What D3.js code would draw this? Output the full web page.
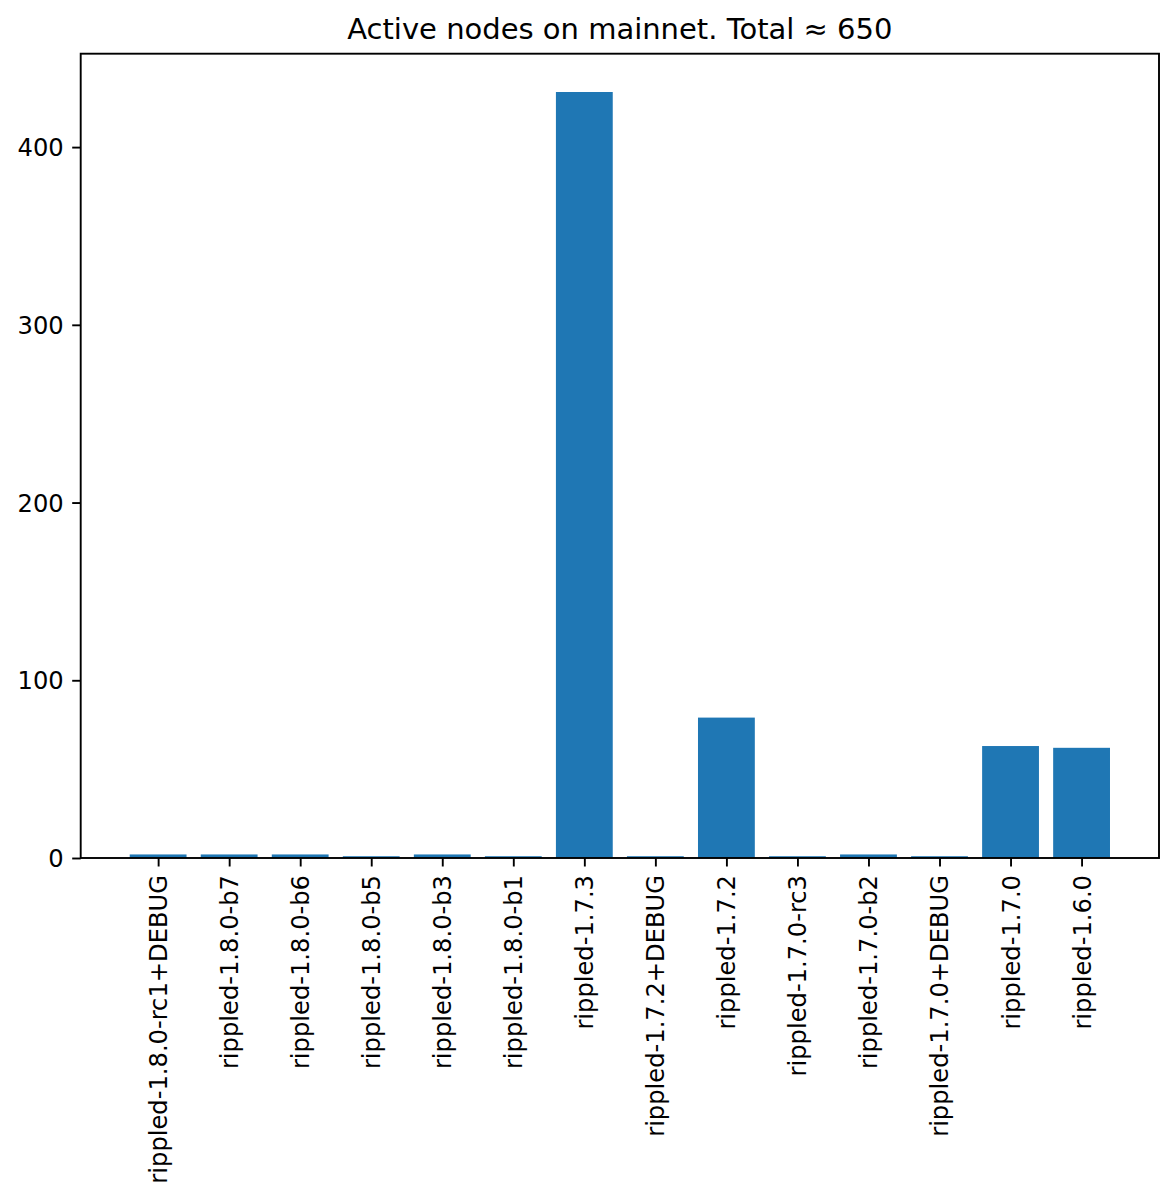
<!DOCTYPE html>
<html>
<head>
<meta charset="utf-8">
<script src="https://cdn.jsdelivr.net/npm/d3@7"></script>
<style>
  html, body { margin: 0; padding: 0; background: #fff; }
  text { font-family: "DejaVu Sans", sans-serif; fill: #000; }
</style>
</head>
<body>
<svg id="chart" width="1176" height="1200"></svg>
<script>
const categories = [
  "rippled-1.8.0-rc1+DEBUG", "rippled-1.8.0-b7", "rippled-1.8.0-b6", "rippled-1.8.0-b5",
  "rippled-1.8.0-b3", "rippled-1.8.0-b1", "rippled-1.7.3", "rippled-1.7.2+DEBUG",
  "rippled-1.7.2", "rippled-1.7.0-rc3", "rippled-1.7.0-b2", "rippled-1.7.0+DEBUG",
  "rippled-1.7.0", "rippled-1.6.0"
];
const counts = [2, 2, 2, 1, 2, 1, 431, 1, 79, 1, 2, 1, 63, 62];
const yTicks = [0, 100, 200, 300, 400];
const title = "Active nodes on mainnet. Total \u2248 650";

const svg = d3.select("#chart");
const mLeft = 80.7, mRight = 1159, mTop = 53.7, mBottom = 858;

const n = categories.length;
const barW = 0.8;
const pad = (n - 1 + barW) * 0.05;
const x = d3.scaleLinear()
  .domain([-barW / 2 - pad, n - 1 + barW / 2 + pad])
  .range([mLeft, mRight]);
const yMax = d3.max(counts) * 1.05;
const y = d3.scaleLinear().domain([0, yMax]).range([mBottom, mTop]);

// bars
svg.append("g").selectAll("rect").data(counts).join("rect")
  .attr("x", (d, i) => x(i - barW / 2))
  .attr("width", (d, i) => x(i + barW / 2) - x(i - barW / 2))
  .attr("y", d => y(d))
  .attr("height", d => y(0) - y(d))
  .attr("fill", "#1f77b4");

// y axis
const yAxis = d3.axisLeft(y).tickValues(yTicks).tickSize(8.5).tickPadding(8.5).tickFormat(d3.format("d"));
const gy = svg.append("g").attr("transform", `translate(${mLeft},0)`).call(yAxis);
gy.select(".domain").remove();
gy.selectAll(".tick line").attr("stroke", "#000").attr("stroke-width", 1.9);
gy.selectAll(".tick text").style("font-size", "24.2px").attr("dy", "0.35em");

// x axis
const xAxis = d3.axisBottom(x).tickValues(d3.range(n)).tickSize(8.5).tickPadding(8.5)
  .tickFormat(i => categories[i]);
const gx = svg.append("g").attr("transform", `translate(0,${mBottom})`).call(xAxis);
gx.select(".domain").remove();
gx.selectAll(".tick line").attr("stroke", "#000").attr("stroke-width", 1.9);
gx.selectAll(".tick text")
  .style("font-size", "24.2px")
  .attr("text-anchor", "end")
  .attr("transform", "rotate(-90)")
  .attr("x", -17)
  .attr("y", 0)
  .attr("dy", "0.35em");

// frame
svg.append("rect")
  .attr("x", mLeft).attr("y", mTop)
  .attr("width", mRight - mLeft).attr("height", mBottom - mTop)
  .attr("fill", "none").attr("stroke", "#000").attr("stroke-width", 1.9);

// title
svg.append("text")
  .attr("x", (mLeft + mRight) / 2).attr("y", 39)
  .attr("text-anchor", "middle")
  .style("font-size", "29px")
  .text(title);
</script>
</body>
</html>
